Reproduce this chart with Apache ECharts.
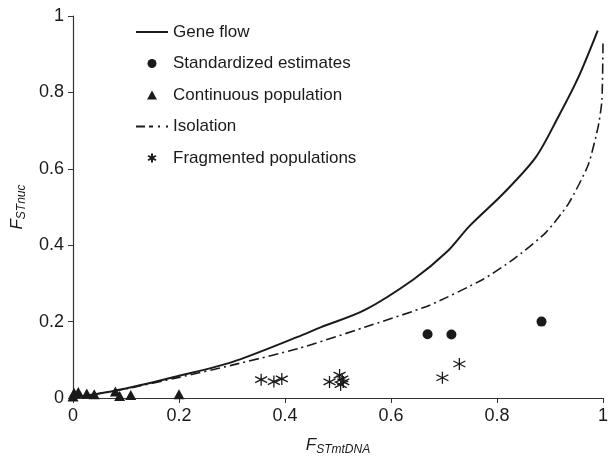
<!DOCTYPE html>
<html>
<head>
<meta charset="utf-8">
<script src="https://cdn.jsdelivr.net/npm/echarts@6/dist/echarts.min.js"></script>
<style>
  html, body { margin: 0; padding: 0; background: #fff; }
  #c1 { width: 611px; height: 461px; }
</style>
</head>
<body>
<div id="c1"></div>
<script>
// curves, [FSTmtDNA, FSTnuc]
let geneFlow = [
  [0, 0], [0.1, 0.025], [0.2, 0.058], [0.3, 0.094], [0.424, 0.16], [0.467, 0.185],
  [0.55, 0.23], [0.643, 0.311], [0.705, 0.382], [0.748, 0.45], [0.811, 0.534],
  [0.873, 0.63], [0.916, 0.737], [0.953, 0.838], [0.99, 0.962]
];
let isolation = [
  [0, 0], [0.1, 0.024], [0.2, 0.054], [0.3, 0.086], [0.424, 0.129], [0.55, 0.185],
  [0.673, 0.243], [0.774, 0.311], [0.83, 0.362], [0.892, 0.433], [0.935, 0.509],
  [0.972, 0.61], [0.991, 0.711], [0.998, 0.78], [1.0, 0.93]
];
// points
let standardized = [[0.669, 0.167], [0.714, 0.166], [0.884, 0.2]];
let continuous = [
  [0, 0.004], [0.002, 0.014], [0.01, 0.016], [0.026, 0.012], [0.04, 0.01],
  [0.08, 0.017], [0.088, 0.005], [0.109, 0.008], [0.2, 0.01]
];
let fragmented = [
  [0.355, 0.048], [0.379, 0.043], [0.394, 0.05], [0.484, 0.042], [0.503, 0.06],
  [0.505, 0.035], [0.51, 0.042], [0.508, 0.05], [0.697, 0.053], [0.729, 0.089]
];
let xTicks = [0, 0.2, 0.4, 0.6, 0.8, 1];
let yTicks = [0, 0.2, 0.4, 0.6, 0.8, 1];

let ink = "#1a1a1a";
let font = "Liberation Sans";
let starPath = "path://M0,-6L0,6M-5.2,-3L5.2,3M-5.2,3L5.2,-3";
let triPath = "path://M0,-5L5.5,5L-5.5,5Z";
// legend samples for the two curves
let solidIcon = "path://M0,0L32,0L32,2L0,2Z";
let dashDotIcon = "path://M0,0h9v2h-9ZM13,0h4v2h-4ZM22,0h2v2h-2ZM30,0h2v2h-2Z";

let myChart = echarts.init(document.getElementById("c1"), null, { renderer: "canvas" });
let option = {
  backgroundColor: "#fff",
  animation: false,
  textStyle: { fontFamily: font, color: ink },
  grid: { left: 73, right: 3, top: 16, bottom: 50 },
  legend: {
    left: 136,
    top: 22,
    orient: "vertical",
    padding: 0,
    itemWidth: 32,
    itemHeight: 9,
    itemGap: 11.5,
    textStyle: { fontSize: 17, color: ink, fontFamily: font, lineHeight: 20 },
    data: [
      { name: "Gene flow", icon: solidIcon },
      { name: "Standardized estimates" },
      { name: "Continuous population", icon: triPath },
      { name: "Isolation", icon: dashDotIcon },
      { name: "Fragmented populations" }
    ]
  },
  xAxis: {
    type: "value",
    min: 0,
    max: 1,
    interval: 0.2,
    splitLine: { show: false },
    axisLine: { onZero: false, lineStyle: { color: "#333", width: 1.2 } },
    axisTick: { length: 5, lineStyle: { color: "#333" } },
    axisLabel: {
      fontSize: 18, color: ink, margin: 9,
      formatter: function (v) { return xTicks.indexOf(v) >= 0 ? String(v) : ""; }
    },
    name: "{f|F}{s|STmtDNA}",
    nameLocation: "middle",
    nameGap: 36,
    nameTextStyle: {
      rich: {
        f: { fontSize: 17, fontStyle: "italic", color: ink, fontFamily: font },
        s: { fontSize: 12, fontStyle: "italic", color: ink, fontFamily: font, padding: [10, 0, 0, 0] }
      }
    }
  },
  yAxis: {
    type: "value",
    min: 0,
    max: 1,
    interval: 0.2,
    splitLine: { show: false },
    axisLine: { show: true, lineStyle: { color: "#333", width: 1.2 } },
    axisTick: { show: true, length: 5, lineStyle: { color: "#333" } },
    axisLabel: {
      fontSize: 18, color: ink, margin: 9,
      formatter: function (v) { return yTicks.indexOf(v) >= 0 ? String(v) : ""; }
    },
    name: "{f|F}{s|STnuc}",
    nameLocation: "middle",
    nameGap: 32,
    nameTextStyle: {
      rich: {
        f: { fontSize: 17, fontStyle: "italic", color: ink, fontFamily: font },
        s: { fontSize: 12, fontStyle: "italic", color: ink, fontFamily: font, padding: [10, 0, 0, 0] }
      }
    }
  },
  series: [
    {
      name: "Gene flow",
      type: "line",
      data: geneFlow,
      symbol: "none",
      smooth: 0.3,
      lineStyle: { color: ink, width: 2 },
      itemStyle: { color: ink },
      z: 3
    },
    {
      name: "Isolation",
      type: "line",
      data: isolation,
      symbol: "none",
      smooth: 0.2,
      lineStyle: { color: ink, width: 1.6, type: [10, 4, 2, 4] },
      itemStyle: { color: ink },
      z: 3
    },
    {
      name: "Standardized estimates",
      type: "scatter",
      data: standardized,
      symbol: "circle",
      symbolSize: 10,
      itemStyle: { color: ink, opacity: 1 },
      z: 4
    },
    {
      name: "Continuous population",
      type: "scatter",
      data: continuous,
      symbol: "triangle",
      symbolSize: [11, 10],
      itemStyle: { color: ink, opacity: 1 },
      z: 4
    },
    {
      name: "Fragmented populations",
      type: "scatter",
      data: fragmented,
      symbol: starPath,
      symbolSize: 12,
      itemStyle: { color: "transparent", borderColor: ink, borderWidth: 1.3, opacity: 1 },
      z: 4
    }
  ]
};
myChart.setOption(option);
</script>
</body>
</html>
